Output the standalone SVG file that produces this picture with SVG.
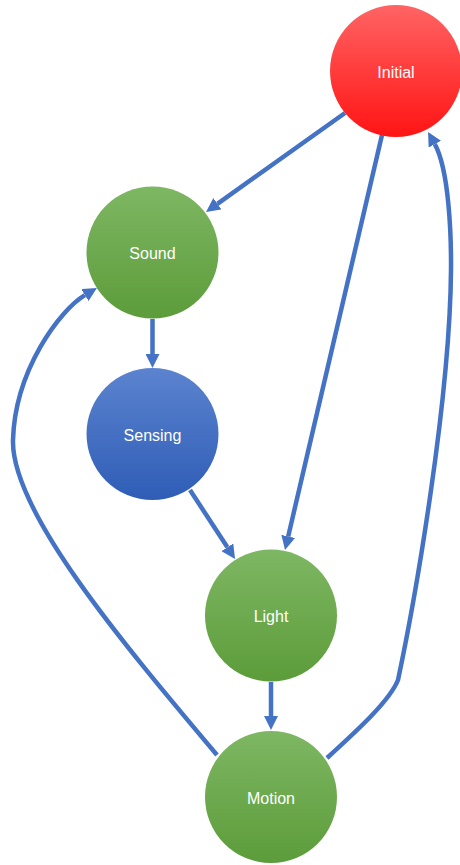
<svg xmlns="http://www.w3.org/2000/svg" width="460" height="865" viewBox="0 0 460 865">
<style>
.edge{fill:none;stroke:#4472c4;stroke-width:4.5;marker-end:url(#arr)}
.lbl{font-family:"Liberation Sans","Noto Sans CJK JP",sans-serif;font-size:16px;fill:#ffffff;text-anchor:middle;dominant-baseline:central}
</style>
<defs>
<linearGradient id="gRed" x1="0" y1="0" x2="0" y2="1"><stop offset="0" stop-color="#ff6464"/><stop offset="1" stop-color="#ff1414"/></linearGradient>
<linearGradient id="gGreen" x1="0" y1="0" x2="0" y2="1"><stop offset="0" stop-color="#7eb763"/><stop offset="1" stop-color="#5c9c3a"/></linearGradient>
<linearGradient id="gBlue" x1="0" y1="0" x2="0" y2="1"><stop offset="0" stop-color="#5b83cf"/><stop offset="1" stop-color="#2f5db6"/></linearGradient>
<marker id="arr" markerUnits="userSpaceOnUse" markerWidth="14" markerHeight="14" viewBox="0 0 14 14" refX="0" refY="7" orient="auto"><path d="M0,0 L14,7 L0,14 z" fill="#4472c4"/></marker>
</defs>
<rect width="460" height="865" fill="#ffffff"/>
<g id="connectors">
<path class="edge" d="M345,113 L217.4,203.8"/>
<path class="edge" d="M382,135 L288.2,536.4"/>
<path class="edge" d="M152.5,319 L152.5,354"/>
<path class="edge" d="M190,490 L227.4,547.3"/>
<path class="edge" d="M271,682 L271,716"/>
<path class="edge" d="M217,755 C120,640 11,510 13,440 C15,370 60,310 84.9,295.1"/>
<path class="edge" d="M327,758 C360,728 390,700 398,680 C415,600 450,400 451,270 C451.3,235 449,170 434.8,144.2"/>
</g>
<g id="node-initial"><circle cx="396" cy="71" r="66" fill="url(#gRed)"/><text class="lbl" x="396" y="72">Initial</text></g>
<g id="node-sound"><circle cx="152.5" cy="252.5" r="66" fill="url(#gGreen)"/><text class="lbl" x="152.5" y="253">Sound</text></g>
<g id="node-sensing"><circle cx="152.5" cy="434" r="66" fill="url(#gBlue)"/><text class="lbl" x="152.5" y="435">Sensing</text></g>
<g id="node-light"><circle cx="271" cy="615.5" r="66" fill="url(#gGreen)"/><text class="lbl" x="271" y="616">Light</text></g>
<g id="node-motion"><circle cx="271" cy="797" r="66" fill="url(#gGreen)"/><text class="lbl" x="271" y="798">Motion</text></g>
</svg>
